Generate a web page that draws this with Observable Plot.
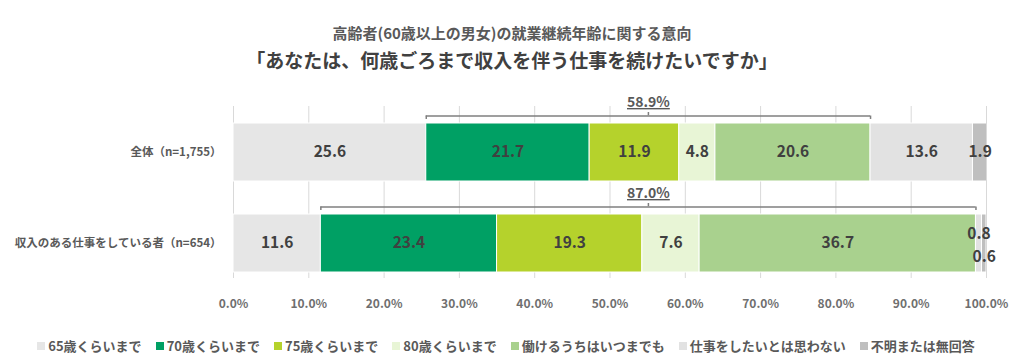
<!DOCTYPE html>
<html>
<head>
<meta charset="utf-8">
<script src="https://cdn.jsdelivr.net/npm/d3@7"></script>
<script src="https://cdn.jsdelivr.net/npm/@observablehq/plot@0.6"></script>
<style>
  html, body { margin: 0; padding: 0; background: #fff; }
  body { width: 1024px; height: 364px; overflow: hidden; font-family: "Noto Sans CJK JP", "Noto Sans", sans-serif; }
  #head { position: relative; height: 80px; }
  #t1 { position: absolute; left: 0; right: 0; top: 22px; text-align: center; font-size: 15px; line-height: 22px; font-weight: 700; color: #595959; }
  #t2 { position: absolute; left: 0; right: 0; top: 46px; text-align: center; font-size: 19px; line-height: 28px; font-weight: 700; color: #404040; }
  #chart svg { display: block; }
  #legend { height: 39px; display: flex; justify-content: center; align-items: center; gap: 14px; padding-right: 12px; padding-top: 2px; box-sizing: border-box; font-size: 13px; font-weight: 700; color: #595959; }
  #legend .item { display: flex; align-items: center; }
  #legend .sw { width: 8px; height: 8px; margin-right: 3px; }
  g[aria-label^="x-axis"] text { font-size: 12px; font-weight: 600; fill: #6f6f6f; }
  g[aria-label^="y-axis"] text { font-size: 11.5px; font-weight: 700; fill: #595959; }
</style>
</head>
<body>
<div id="head">
  <div id="t1">高齢者(60歳以上の男女)の就業継続年齢に関する意向</div>
  <div id="t2">「あなたは、何歳ごろまで収入を伴う仕事を続けたいですか」</div>
</div>
<div id="chart"></div>
<div id="legend"></div>
<script>
const rows = ["全体（n=1,755）", "収入のある仕事をしている者（n=654）"];
const categories = ["65歳くらいまで", "70歳くらいまで", "75歳くらいまで", "80歳くらいまで", "働けるうちはいつまでも", "仕事をしたいとは思わない", "不明または無回答"];
const valuesAll = [25.6, 21.7, 11.9, 4.8, 20.6, 13.6, 1.9];
const valuesWorking = [11.6, 23.4, 19.3, 7.6, 36.7, 0.8, 0.6];
const colors = ["#e6e6e6", "#00a064", "#b5d22c", "#e8f5d6", "#a9d18e", "#e2e2e2", "#bfbfbf"];
const xTicks = [0, 10, 20, 30, 40, 50, 60, 70, 80, 90, 100];
const bracketTotals = [58.9, 87.0];

const series = [valuesAll, valuesWorking];
const data = rows.flatMap((r, i) => categories.map((c, j) => ({row: r, cat: c, value: series[i][j], idx: j, ri: i})));

// brackets span "70歳くらいまで" .. "働けるうちはいつまでも"
const brackets = rows.map((r, i) => {
  const v = series[i];
  const x1 = v[0];
  const x2 = v.slice(0, 5).reduce((a, b) => a + b, 0);
  return {row: r, x1, x2, mid: (x1 + x2) / 2, label: bracketTotals[i].toFixed(1) + "%"};
});
const bracketEnds = brackets.flatMap(b => [{row: b.row, x: b.x1}, {row: b.row, x: b.x2}]);

const yRange = [43, 193], pIn = 0.36;
const bw = (yRange[1] - yRange[0]) / (rows.length - pIn) * (1 - pIn);

// small labels (value < 1) get staggered vertically
const small = data.filter(d => d.value < 1);
const fmt = d => d.value.toFixed(1);
const labelNormal = d => (d.value >= 1 ? fmt(d) : null);
const labelUp = d => (d.value < 1 && small.indexOf(d) % 2 === 0 ? fmt(d) : null);
const labelDown = d => (d.value < 1 && small.indexOf(d) % 2 === 1 ? fmt(d) : null);
const textStyle = {fill: "#404040", fontSize: 15.5, fontWeight: 700};

const chart = Plot.plot({
  width: 1024,
  height: 245,
  marginLeft: 233,
  marginRight: 38,
  marginTop: 26,
  marginBottom: 47,
  style: {fontFamily: "'Noto Sans CJK JP', 'Noto Sans', sans-serif", background: "transparent", overflow: "visible"},
  x: {domain: [0, 100], ticks: xTicks, tickFormat: d => d.toFixed(1) + "%", tickSize: 0, tickPadding: 21, label: null},
  y: {domain: rows, range: yRange, paddingInner: pIn, paddingOuter: 0, tickSize: 0, tickPadding: 12, label: null},
  color: {domain: categories, range: colors},
  marks: [
    Plot.ruleX(xTicks, {x: d => d, stroke: "#d9d9d9", strokeWidth: 1}),
    Plot.barX(data, Plot.stackX({x: "value", y: "row", fill: "cat", order: null, stroke: "white", strokeWidth: 1, clip: true})),
    Plot.text(data, Plot.stackX({x: "value", y: "row", z: "cat", order: null, text: labelNormal, ...textStyle})),
    Plot.text(data, Plot.stackX({x: "value", y: "row", z: "cat", order: null, text: labelUp, dy: -9, ...textStyle})),
    Plot.text(data, Plot.stackX({x: "value", y: "row", z: "cat", order: null, text: labelDown, dy: 14, ...textStyle})),
    // bracket horizontal
    Plot.ruleY(brackets, {x1: "x1", x2: "x2", y: "row", dy: -36.5, stroke: "#7f7f7f", strokeWidth: 1.5}),
    // bracket end ticks (down)
    Plot.tickX(bracketEnds, {x: "x", y: "row", insetTop: 0, insetBottom: bw - 4, dy: -7.5, stroke: "#7f7f7f", strokeWidth: 1.5}),
    // bracket center tick (up)
    Plot.tickX(brackets, {x: "mid", y: "row", insetTop: 0, insetBottom: bw - 3.8, dy: -11, stroke: "#7f7f7f", strokeWidth: 1.5}),
    Plot.text(brackets, {x: "mid", y: "row", text: "label", dy: -50, fill: "#595959", fontSize: 14, fontWeight: 700})
  ]
});
document.getElementById("chart").appendChild(chart);

// underline bracket total labels
const labelSet = new Set(brackets.map(b => b.label));
d3.select(chart).selectAll("g[aria-label='text'] text").each(function () {
  if (labelSet.has(this.textContent)) d3.select(this).attr("text-decoration", "underline").style("text-decoration", "underline");
});

const legend = d3.select("#legend");
categories.forEach((c, i) => {
  const it = legend.append("div").attr("class", "item");
  it.append("div").attr("class", "sw").style("background", colors[i]);
  it.append("span").text(c);
});
</script>
</body>
</html>
